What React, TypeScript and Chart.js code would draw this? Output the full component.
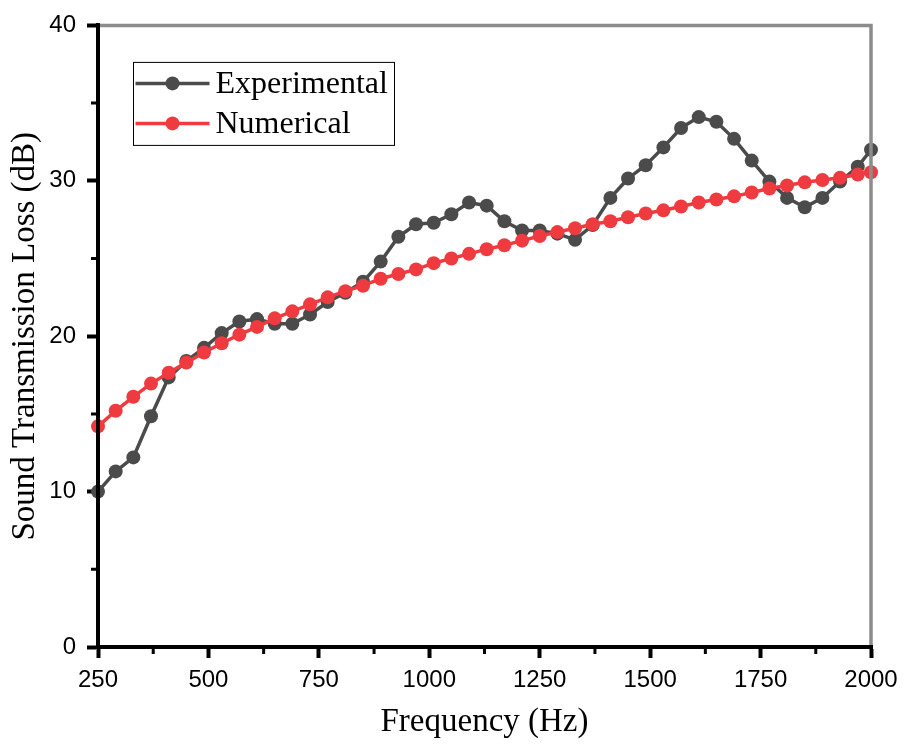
import React, { useEffect, useRef } from "react";
import { Chart, registerables } from "chart.js";

Chart.register(...registerables);

const frequencies: number[] = [
  250, 290, 330, 370, 410, 450, 490, 530, 570, 610, 650, 690, 730, 770, 810,
  850, 890, 930, 970, 1010, 1050, 1090, 1130, 1170, 1210, 1250, 1290, 1330,
  1370, 1410, 1450, 1490, 1530, 1570, 1610, 1650, 1690, 1730, 1770, 1810,
  1850, 1890, 1930, 1970, 2000,
];

const experimental: number[] = [
  10.0, 11.3, 12.2, 14.85, 17.35, 18.4, 19.25, 20.2, 20.95, 21.1, 20.8, 20.8,
  21.4, 22.2, 22.8, 23.5, 24.8, 26.4, 27.2, 27.3, 27.85, 28.6, 28.4, 27.4,
  26.8, 26.8, 26.6, 26.2, 27.15, 28.9, 30.15, 31.0, 32.15, 33.4, 34.1, 33.8,
  32.7, 31.3, 29.95, 28.9, 28.3, 28.9, 29.95, 30.9, 32.0,
];

const numerical: number[] = [
  14.2, 15.2, 16.1, 16.95, 17.65, 18.3, 18.95, 19.55, 20.1, 20.6, 21.15, 21.6,
  22.05, 22.5, 22.9, 23.25, 23.7, 24.0, 24.3, 24.7, 25.0, 25.3, 25.6, 25.85,
  26.15, 26.45, 26.7, 26.95, 27.2, 27.4, 27.65, 27.9, 28.1, 28.35, 28.6, 28.8,
  29.0, 29.25, 29.5, 29.7, 29.9, 30.05, 30.2, 30.4, 30.55,
];

const xMajorTicks: number[] = [250, 500, 750, 1000, 1250, 1500, 1750, 2000];
const xMinorTicks: number[] = [375, 625, 875, 1125, 1375, 1625, 1875];
const yMajorTicks: number[] = [0, 10, 20, 30, 40];
const yMinorTicks: number[] = [5, 15, 25, 35];

const seriesNames = ["Experimental", "Numerical"];
const seriesColors = ["#4b4b4b", "#ef3b40"];

const SERIF = "'Liberation Serif', 'Times New Roman', serif";
const SANS = "'Liberation Sans', Arial, sans-serif";

const framePlugin = {
  id: "frameAndLegend",
  afterDraw(chart: any) {
    const { ctx, chartArea, scales } = chart;
    const xs = scales.x;
    const ys = scales.y;
    ctx.save();
    // grey top/right frame
    ctx.strokeStyle = "#8c8c8c";
    ctx.lineWidth = 3.5;
    ctx.beginPath();
    ctx.moveTo(chartArea.left, chartArea.top);
    ctx.lineTo(chartArea.right, chartArea.top);
    ctx.lineTo(chartArea.right, chartArea.bottom);
    ctx.stroke();
    // redraw black axes over the frame
    ctx.strokeStyle = "#000";
    ctx.lineWidth = 4;
    ctx.beginPath();
    ctx.moveTo(chartArea.left, chartArea.top - 2);
    ctx.lineTo(chartArea.left, chartArea.bottom + 2);
    ctx.moveTo(chartArea.left - 2, chartArea.bottom);
    ctx.lineTo(chartArea.right + 2, chartArea.bottom);
    ctx.stroke();
    // minor ticks
    ctx.lineWidth = 3;
    ctx.beginPath();
    for (const v of xMinorTicks) {
      const px = xs.getPixelForValue(v);
      ctx.moveTo(px, chartArea.bottom);
      ctx.lineTo(px, chartArea.bottom + 7);
    }
    for (const v of yMinorTicks) {
      const py = ys.getPixelForValue(v);
      ctx.moveTo(chartArea.left, py);
      ctx.lineTo(chartArea.left - 7, py);
    }
    ctx.stroke();

    // legend box
    const bx = chartArea.left + 35.5;
    const by = chartArea.top + 37;
    const bw = 261;
    const bh = 83;
    ctx.strokeStyle = "#000";
    ctx.lineWidth = 1;
    ctx.strokeRect(bx, by, bw, bh);
    const rows = [by + 21, by + 61];
    seriesNames.forEach((name, i) => {
      const y = rows[i];
      ctx.strokeStyle = seriesColors[i];
      ctx.lineWidth = 3.5;
      ctx.beginPath();
      ctx.moveTo(bx + 2, y);
      ctx.lineTo(bx + 76, y);
      ctx.stroke();
      ctx.fillStyle = seriesColors[i];
      ctx.beginPath();
      ctx.arc(bx + 39, y, 7, 0, Math.PI * 2);
      ctx.fill();
      ctx.fillStyle = "#000";
      ctx.font = `32px ${SERIF}`;
      ctx.textBaseline = "middle";
      ctx.textAlign = "left";
      ctx.fillText(name, bx + 82, y + 1);
    });
    ctx.restore();
  },
};

export default function App() {
  const canvasRef = useRef<HTMLCanvasElement | null>(null);

  useEffect(() => {
    const canvas = canvasRef.current;
    if (!canvas) return;
    const chart = new Chart(canvas, {
      type: "line",
      data: {
        datasets: [
          {
            label: seriesNames[0],
            data: frequencies.map((f, i) => ({ x: f, y: experimental[i] })),
            borderColor: seriesColors[0],
            backgroundColor: seriesColors[0],
            borderWidth: 3.5,
            pointRadius: 7,
            pointBorderWidth: 0,
            pointBackgroundColor: seriesColors[0],
            tension: 0,
            order: 2,
            clip: false,
          },
          {
            label: seriesNames[1],
            data: frequencies.map((f, i) => ({ x: f, y: numerical[i] })),
            borderColor: seriesColors[1],
            backgroundColor: seriesColors[1],
            borderWidth: 3.5,
            pointRadius: 7,
            pointBorderWidth: 0,
            pointBackgroundColor: seriesColors[1],
            tension: 0,
            order: 1,
            clip: false,
          },
        ],
      },
      options: {
        responsive: false,
        animation: false,
        events: [],
        layout: { padding: { top: 24, right: 35, left: 0, bottom: 0 } },
        plugins: {
          legend: { display: false },
          tooltip: { enabled: false },
          title: { display: false },
        },
        scales: {
          x: {
            type: "linear",
            min: 250,
            max: 2000,
            afterBuildTicks: (s: any) => {
              s.ticks = xMajorTicks.map((v) => ({ value: v }));
            },
            afterFit: (s: any) => {
              s.height = 101;
            },
            ticks: {
              font: { family: SANS, size: 24 },
              color: "#000",
              padding: 8,
              maxRotation: 0,
              autoSkip: false,
              callback: (v: any) => String(v),
            },
            grid: {
              display: true,
              drawOnChartArea: false,
              drawTicks: true,
              tickLength: 11,
              tickWidth: 4,
              tickColor: "#000",
            },
            border: { display: true, color: "#000", width: 4 },
            title: {
              display: true,
              text: "Frequency (Hz)",
              font: { family: SERIF, size: 33 },
              color: "#000",
              padding: { top: 0, bottom: 6 },
            },
          },
          y: {
            type: "linear",
            min: 0,
            max: 40,
            afterBuildTicks: (s: any) => {
              s.ticks = yMajorTicks.map((v) => ({ value: v }));
            },
            afterFit: (s: any) => {
              s.width = 98;
            },
            ticks: {
              font: { family: SANS, size: 24 },
              color: "#000",
              padding: 11,
              callback: (v: any) => String(v),
            },
            grid: {
              display: true,
              drawOnChartArea: false,
              drawTicks: true,
              tickLength: 11,
              tickWidth: 4,
              tickColor: "#000",
            },
            border: { display: true, color: "#000", width: 4 },
            title: {
              display: true,
              text: "Sound Transmission Loss (dB)",
              font: { family: SERIF, size: 33 },
              color: "#000",
              padding: { top: 6, bottom: 0 },
            },
          },
        },
      },
      plugins: [framePlugin],
    } as any);
    return () => chart.destroy();
  }, []);

  return (
    <div
      style={{
        position: "fixed",
        left: 0,
        top: 0,
        width: 906,
        height: 748,
        background: "#fff",
      }}
    >
      <canvas ref={canvasRef} width={906} height={748} style={{ display: "block" }} />
    </div>
  );
}
